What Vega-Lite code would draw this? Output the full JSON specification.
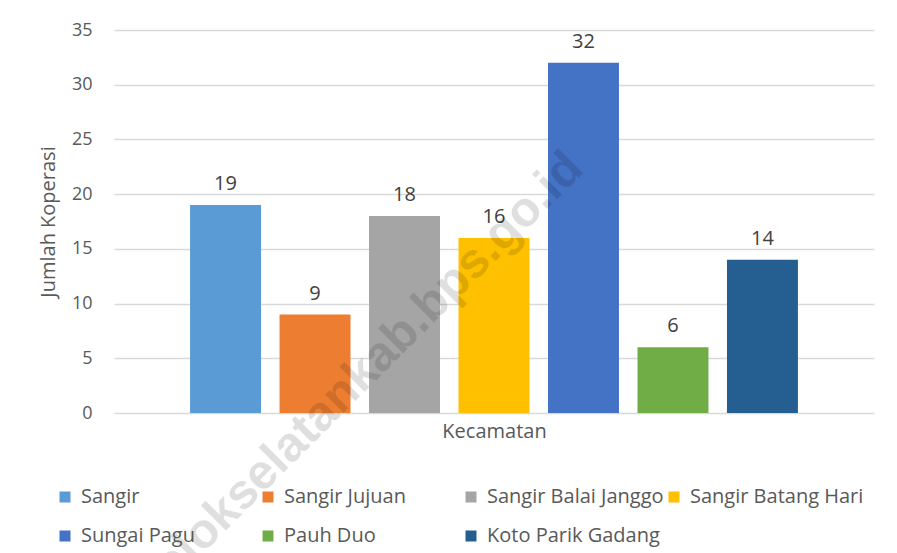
{
  "$schema": "https://vega.github.io/schema/vega-lite/v6.json",
  "width": 760,
  "height": 383,
  "autosize": {"type": "none"},
  "padding": {"left": 114, "top": 30, "right": 23, "bottom": 140},
  "background": "white",
  "config": {
    "font": "Open Sans",
    "view": {"stroke": null},
    "axis": {"labelColor": "#595959", "titleColor": "#595959", "titleFontWeight": "normal"},
    "legend": {
      "orient": "none",
      "direction": "horizontal",
      "legendX": -59,
      "legendY": 457,
      "columns": 4,
      "gridAlign": "all",
      "symbolType": "square",
      "symbolSize": 121,
      "symbolStrokeWidth": 0,
      "labelFontSize": 20,
      "labelColor": "#595959",
      "labelOffset": 6,
      "rowPadding": 19,
      "columnPadding": -5,
      "title": null,
      "labelLimit": 300
    }
  },
  "datasets": {
    "main": [
      {"Kecamatan": "Sangir", "Jumlah": 19},
      {"Kecamatan": "Sangir Jujuan", "Jumlah": 9},
      {"Kecamatan": "Sangir Balai Janggo", "Jumlah": 18},
      {"Kecamatan": "Sangir Batang Hari", "Jumlah": 16},
      {"Kecamatan": "Sungai Pagu", "Jumlah": 32},
      {"Kecamatan": "Pauh Duo", "Jumlah": 6},
      {"Kecamatan": "Koto Parik Gadang", "Jumlah": 14}
    ],
    "wm": [{"text": "solokselatankab.bps.go.id"}]
  },
  "layer": [
    {
      "data": {"name": "main"},
      "mark": {"type": "bar"},
      "encoding": {
        "x": {
          "field": "Kecamatan",
          "type": "nominal",
          "sort": null,
          "scale": {"paddingInner": 0.207, "paddingOuter": 0.85},
          "axis": {"labels": false, "ticks": false, "domain": false, "title": "Kecamatan", "titleFontSize": 20, "titlePadding": 8}
        },
        "y": {
          "field": "Jumlah",
          "type": "quantitative",
          "scale": {"domain": [0, 35], "nice": false},
          "axis": {
            "values": [0, 5, 10, 15, 20, 25, 30, 35],
            "domain": false,
            "ticks": false,
            "gridColor": "#D9D9D9",
            "gridWidth": 1.3,
            "labelFontSize": 18,
            "labelPadding": 22,
            "title": "Jumlah Koperasi",
            "titleFontSize": 20,
            "titlePadding": 13
          }
        },
        "color": {
          "field": "Kecamatan",
          "type": "nominal",
          "sort": null,
          "scale": {
            "domain": ["Sangir", "Sangir Jujuan", "Sangir Balai Janggo", "Sangir Batang Hari", "Sungai Pagu", "Pauh Duo", "Koto Parik Gadang"],
            "range": ["#5B9BD5", "#ED7D31", "#A5A5A5", "#FFC000", "#4472C4", "#70AD47", "#255E91"]
          }
        }
      }
    },
    {
      "data": {"name": "main"},
      "mark": {"type": "text", "baseline": "alphabetic", "dy": -15, "fontSize": 20, "color": "#404040"},
      "encoding": {
        "x": {"field": "Kecamatan", "type": "nominal", "sort": null},
        "y": {"field": "Jumlah", "type": "quantitative"},
        "text": {"field": "Jumlah", "type": "quantitative"}
      }
    },
    {
      "data": {"name": "wm"},
      "mark": {"type": "text", "font": "Liberation Sans", "fontWeight": "bold", "fontSize": 49, "angle": -45, "align": "center", "baseline": "middle", "color": "#000000", "opacity": 0.12},
      "encoding": {
        "x": {"datum": "Sangir Jujuan", "bandPosition": 1.11},
        "y": {"datum": 3.3},
        "text": {"field": "text", "type": "nominal"}
      }
    }
  ]
}
